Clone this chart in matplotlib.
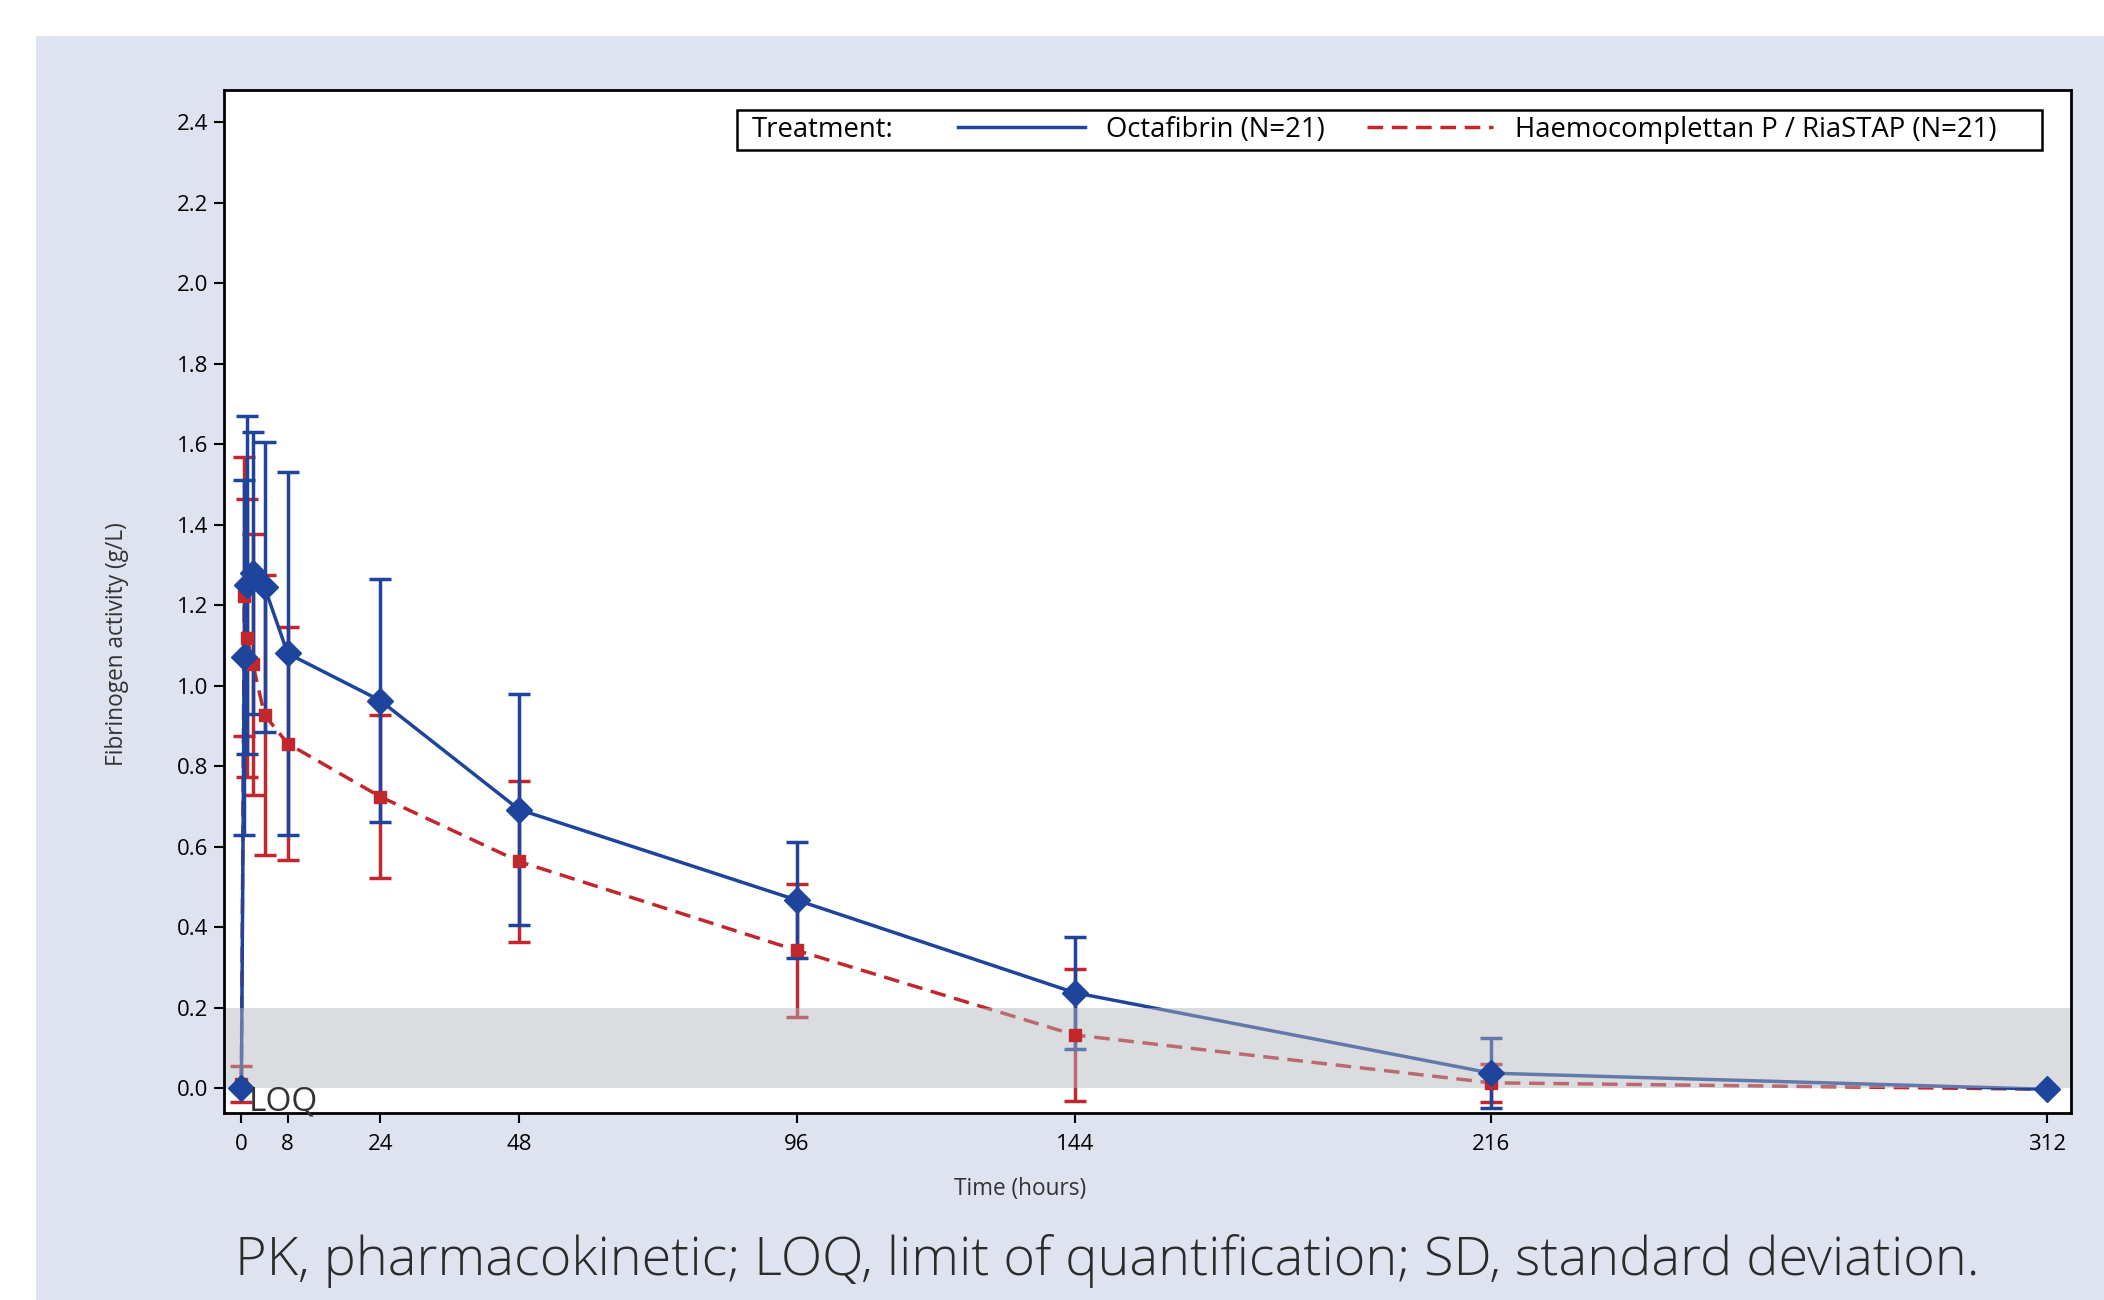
import matplotlib
matplotlib.use("Agg")
import matplotlib.pyplot as plt
from matplotlib.patches import Rectangle
from matplotlib.lines import Line2D

# ---- data ----
time_h = [0, 0.5, 1, 2, 4, 8, 24, 48, 96, 144, 216, 312]
octa_mean = [0.0, 1.07, 1.25, 1.28, 1.245, 1.08, 0.963, 0.692, 0.467, 0.237, 0.037, -0.003]
octa_sd = [0.003, 0.44, 0.42, 0.35, 0.36, 0.45, 0.303, 0.288, 0.145, 0.139, 0.087, 0.0]
haemo_mean = [0.01, 1.222, 1.118, 1.053, 0.927, 0.856, 0.724, 0.563, 0.342, 0.132, 0.013, -0.003]
haemo_sd = [0.045, 0.347, 0.346, 0.324, 0.347, 0.289, 0.203, 0.2, 0.165, 0.163, 0.047, 0.0]
x_ticks = [0, 8, 24, 48, 96, 144, 216, 312]
y_ticks = [0.0, 0.2, 0.4, 0.6, 0.8, 1.0, 1.2, 1.4, 1.6, 1.8, 2.0, 2.2, 2.4]
loq_band = (0.0, 0.2)
label_octa = "Octafibrin (N=21)"
label_haemo = "Haemocomplettan P / RiaSTAP (N=21)"

BLUE = "#1f449c"
RED = "#c1272d"
PANEL = "#dee3ef"
FONT = ["Open Sans", "DejaVu Sans"]

plt.rcParams["font.family"] = FONT

fig = plt.figure(figsize=(21.04, 13.0), dpi=100)
fig.patch.set_facecolor("white")
fig.add_artist(Rectangle((36 / 2104, 0), 1 - 36 / 2104, 1264 / 1300,
                         transform=fig.transFigure, facecolor=PANEL,
                         edgecolor="none", zorder=0))

ax = fig.add_axes([224 / 2104, 187 / 1300, 1847 / 2104, 1023 / 1300])
ax.set_facecolor("white")

lw = 2.5
dash = (4.5, 2.5)

# error bars + lines (below the LOQ band)
ax.errorbar(time_h, haemo_mean, yerr=haemo_sd, fmt="none", ecolor=RED,
            elinewidth=lw, capsize=8, capthick=lw, zorder=1)
ax.plot(time_h, haemo_mean, color=RED, lw=lw, ls=(0, dash), zorder=1)
ax.errorbar(time_h, octa_mean, yerr=octa_sd, fmt="none", ecolor=BLUE,
            elinewidth=lw, capsize=8, capthick=lw, zorder=1.1)
ax.plot(time_h, octa_mean, color=BLUE, lw=lw, zorder=1.1)

# LOQ band drawn semi-transparent over lines
ax.axhspan(loq_band[0], loq_band[1], facecolor="#b4b6bc", alpha=0.47,
           edgecolor="none", zorder=2)

# markers above band
ax.plot(time_h, haemo_mean, ls="none", marker="s", ms=8.5, color=RED, zorder=3)
ax.plot(time_h, octa_mean, ls="none", marker="D", ms=13, color=BLUE, zorder=3.1)

ax.text(1.2, 0.006, "LOQ", ha="left", va="top", fontsize=24, color="#333333",
        zorder=4)

ax.set_xlim(-3.0, 316.2)
ax.set_ylim(-0.062, 2.48)
ax.set_xticks(x_ticks)
ax.set_xticklabels([str(v) for v in x_ticks])
ax.set_yticks(y_ticks)
ax.set_yticklabels([f"{v:.1f}" for v in y_ticks])
ax.tick_params(axis="both", direction="out", length=7, width=1.5,
               labelsize=16, colors="black")
ax.tick_params(axis="x", pad=8)
ax.tick_params(axis="y", pad=4)
for s in ax.spines.values():
    s.set_linewidth(2.0)
    s.set_color("black")

ax.set_xlabel("Time (hours)", fontsize=16.3, color="#333333")
ax.xaxis.set_label_coords((1020 - 224) / 1847, -(1177 - 1113) / 1023)
ax.set_ylabel("Fibrinogen activity (g/L)", fontsize=16.3, color="#333333")
ax.yaxis.set_label_coords(-(224 - 129) / 1847, (1113 - 644) / 1023)

# legend
x0 = (737 - 224) / 1847
x1 = (2042 - 224) / 1847
y0 = (1113 - 150) / 1023
y1 = (1113 - 110) / 1023
LFS = 19.8
ax.add_patch(Rectangle((x0, y0), x1 - x0, y1 - y0, transform=ax.transAxes,
                       facecolor="white", edgecolor="black", lw=1.8, zorder=5))
ax.text((752 - 224) / 1847, (y0 + y1) / 2, "Treatment:", transform=ax.transAxes,
        ha="left", va="center", fontsize=LFS, color="black", zorder=6)
handles = [Line2D([], [], color=BLUE, lw=lw),
           Line2D([], [], color=RED, lw=lw, ls=(0, dash))]
leg = ax.legend(handles, [label_octa, label_haemo], ncol=2, frameon=False,
                loc="center left", bbox_to_anchor=((958 - 224) / 1847, (y0 + y1) / 2),
                borderpad=0, borderaxespad=0, fontsize=LFS, handlelength=4.6,
                handletextpad=0.8, columnspacing=1.5)
leg.set_zorder(6)

fig.text(235 / 2104, (1300 - 1261) / 1300,
         "PK, pharmacokinetic; LOQ, limit of quantification; SD, standard deviation.",
         ha="left", va="center", fontsize=39, color="#2b2b2b", fontweight="light")

fig.savefig("out.png", dpi=100, facecolor=fig.get_facecolor())
